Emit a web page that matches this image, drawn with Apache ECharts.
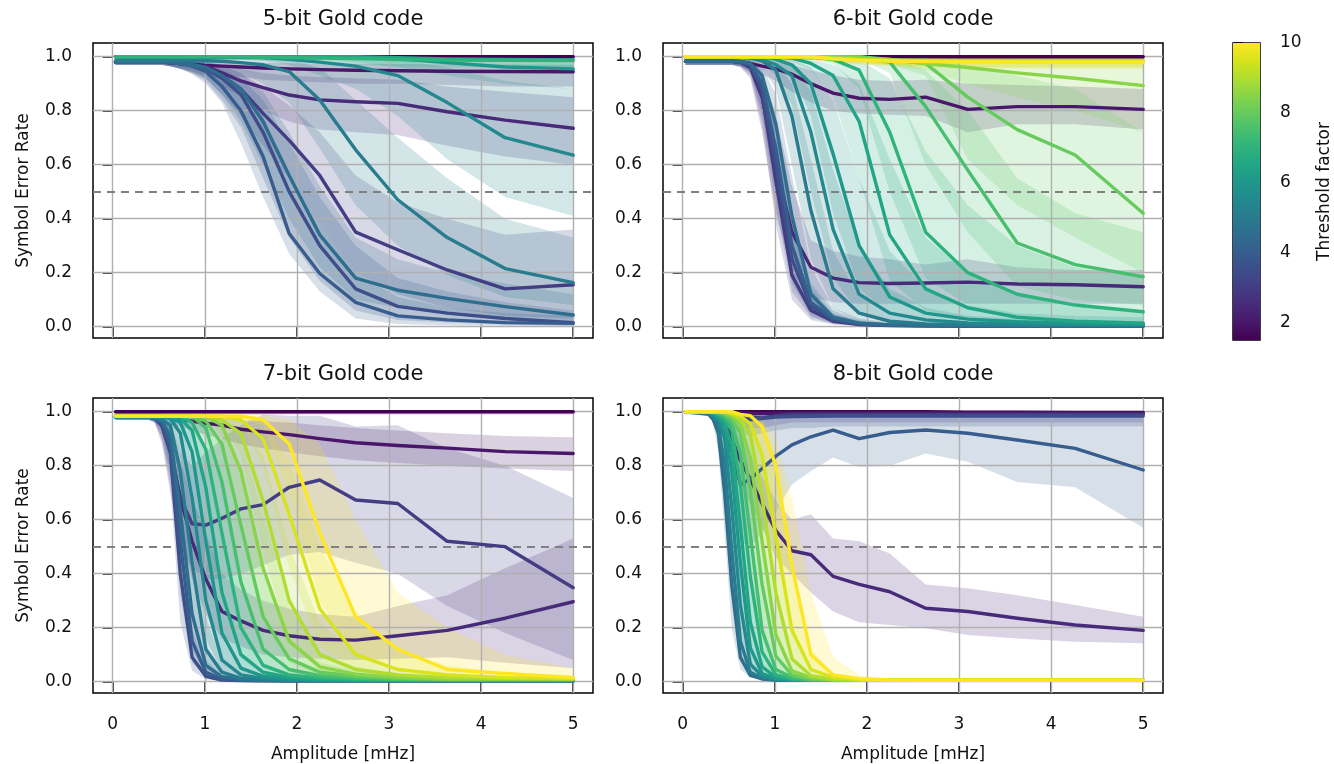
<!DOCTYPE html>
<html><head><meta charset="utf-8">
<script src="https://cdn.jsdelivr.net/npm/echarts@6/dist/echarts.min.js"></script>
<style>html,body{margin:0;padding:0;background:#fff}#c{width:1334px;height:764px}</style>
</head><body><div id="c"></div>
<script>
// ---------------- DATA ----------------
const amplitude = [0.03,0.281,0.33,0.387,0.455,0.533,0.626,0.734,0.862,1.011,1.186,1.392,1.633,1.916,2.248,2.638,3.095,3.632,4.261,5.0];
const xTickValues = [0,1,2,3,4,5];
const yTickValues = [0,0.2,0.4,0.6,0.8,1.0];
const colorbarTicks = [2,4,6,8,10];
const referenceRate = 0.5;
const panelTitles = ['5-bit Gold code','6-bit Gold code','7-bit Gold code','8-bit Gold code'];

const thresholds5 = [1.5,2,2.5,3,3.5,4,4.5,5,5.5,6,6.5,7];
const mean5 = [
[1,1,1,1,1,1,1,1,1,1,1,1,1,1,1,1,1,1,1,1],
[0.98,0.98,0.98,0.98,0.98,0.98,0.978,0.975,0.972,0.968,0.965,0.962,0.958,0.955,0.952,0.95,0.948,0.946,0.945,0.944],
[0.98,0.98,0.98,0.98,0.98,0.98,0.978,0.975,0.97,0.963,0.94,0.91,0.885,0.858,0.84,0.833,0.827,0.796,0.765,0.735],
[0.98,0.98,0.98,0.98,0.98,0.98,0.978,0.975,0.97,0.96,0.93,0.88,0.79,0.69,0.56,0.35,0.285,0.21,0.14,0.155],
[0.98,0.98,0.98,0.98,0.98,0.98,0.978,0.975,0.968,0.955,0.92,0.86,0.72,0.5,0.3,0.14,0.075,0.05,0.03,0.015],
[0.98,0.98,0.98,0.98,0.98,0.98,0.978,0.975,0.965,0.945,0.89,0.8,0.63,0.345,0.197,0.09,0.04,0.025,0.015,0.012],
[0.98,0.98,0.98,0.98,0.98,0.98,0.978,0.975,0.97,0.96,0.93,0.88,0.76,0.56,0.34,0.18,0.135,0.105,0.074,0.043],
[0.985,0.985,0.985,0.985,0.985,0.985,0.985,0.985,0.985,0.985,0.983,0.978,0.97,0.945,0.84,0.655,0.47,0.33,0.215,0.163],
[1,1,1,1,1,1,1,1,1,1,1,1,0.997,0.99,0.98,0.965,0.93,0.83,0.7,0.635],
[1,1,1,1,1,1,1,1,1,1,1,1,1,1,1,0.998,0.992,0.978,0.962,0.955],
[1,1,1,1,1,1,1,1,1,1,1,1,1,1,1,1,0.996,0.992,0.99,0.988],
[1,1,1,1,1,1,1,1,1,1,1,1,0.998,0.996,0.995,0.993,0.99,0.988,0.987,0.986]
];
const lower5 = [
[0.99,0.99,0.99,0.99,0.99,0.99,0.99,0.99,0.99,0.99,0.99,0.99,0.99,0.99,0.99,0.99,0.99,0.99,0.99,0.99],
[0.97,0.97,0.97,0.97,0.97,0.97,0.965,0.96,0.955,0.945,0.935,0.925,0.915,0.91,0.905,0.9,0.9,0.895,0.89,0.89],
[0.97,0.97,0.97,0.97,0.97,0.97,0.965,0.955,0.945,0.93,0.89,0.85,0.8,0.76,0.73,0.72,0.71,0.67,0.63,0.6],
[0.97,0.97,0.97,0.97,0.97,0.97,0.965,0.955,0.94,0.92,0.86,0.78,0.67,0.55,0.38,0.2,0.12,0.07,0.04,0.03],
[0.97,0.97,0.97,0.97,0.97,0.97,0.965,0.955,0.94,0.91,0.84,0.74,0.55,0.33,0.17,0.06,0.025,0.015,0.008,0.003],
[0.97,0.97,0.97,0.97,0.97,0.97,0.965,0.955,0.935,0.9,0.83,0.68,0.48,0.27,0.13,0.03,0.01,0.005,0.003,0.002],
[0.97,0.97,0.97,0.97,0.97,0.97,0.965,0.955,0.945,0.92,0.86,0.76,0.6,0.4,0.22,0.1,0.07,0.05,0.03,0.015],
[0.975,0.975,0.975,0.975,0.975,0.975,0.975,0.975,0.975,0.97,0.96,0.94,0.9,0.83,0.66,0.45,0.3,0.19,0.11,0.08],
[0.99,0.99,0.99,0.99,0.99,0.99,0.99,0.99,0.99,0.99,0.99,0.99,0.985,0.97,0.93,0.88,0.78,0.62,0.48,0.41],
[0.99,0.99,0.99,0.99,0.99,0.99,0.99,0.99,0.99,0.99,0.99,0.99,0.99,0.99,0.99,0.98,0.96,0.93,0.9,0.88],
[0.99,0.99,0.99,0.99,0.99,0.99,0.99,0.99,0.99,0.99,0.99,0.99,0.99,0.99,0.99,0.99,0.98,0.97,0.965,0.96],
[0.99,0.99,0.99,0.99,0.99,0.99,0.99,0.99,0.99,0.99,0.99,0.99,0.985,0.98,0.975,0.97,0.965,0.96,0.96,0.96]
];
const upper5 = [
[1,1,1,1,1,1,1,1,1,1,1,1,1,1,1,1,1,1,1,1],
[0.99,0.99,0.99,0.99,0.99,0.99,0.99,0.988,0.985,0.983,0.982,0.98,0.978,0.976,0.975,0.974,0.973,0.972,0.971,0.97],
[0.99,0.99,0.99,0.99,0.99,0.99,0.99,0.988,0.985,0.98,0.97,0.955,0.94,0.93,0.925,0.92,0.915,0.89,0.87,0.85],
[0.99,0.99,0.99,0.99,0.99,0.99,0.99,0.988,0.985,0.98,0.965,0.94,0.89,0.82,0.72,0.56,0.46,0.4,0.34,0.36],
[0.99,0.99,0.99,0.99,0.99,0.99,0.99,0.988,0.985,0.975,0.955,0.92,0.84,0.68,0.48,0.3,0.18,0.13,0.09,0.06],
[0.99,0.99,0.99,0.99,0.99,0.99,0.99,0.988,0.985,0.975,0.945,0.89,0.78,0.55,0.38,0.2,0.11,0.07,0.05,0.04],
[0.99,0.99,0.99,0.99,0.99,0.99,0.99,0.988,0.985,0.98,0.965,0.94,0.87,0.72,0.52,0.33,0.25,0.2,0.16,0.12],
[0.995,0.995,0.995,0.995,0.995,0.995,0.995,0.995,0.995,0.995,0.995,0.995,0.993,0.99,0.96,0.84,0.7,0.55,0.4,0.33],
[1,1,1,1,1,1,1,1,1,1,1,1,1,1,1,1,0.99,0.96,0.91,0.88],
[1,1,1,1,1,1,1,1,1,1,1,1,1,1,1,1,1,1,1,1],
[1,1,1,1,1,1,1,1,1,1,1,1,1,1,1,1,1,1,1,1],
[1,1,1,1,1,1,1,1,1,1,1,1,1,1,1,1,1,1,1,1]
];

const thresholds6 = [1.5,2,2.5,3,3.5,4,4.5,5,5.5,6,6.5,7,7.5,8,8.5,9,9.5,10];
const mean6 = [
[1,1,1,1,1,1,1,1,1,1,1,1,1,1,1,1,1,1,1,1],
[0.983,0.983,0.983,0.983,0.983,0.983,0.982,0.975,0.965,0.955,0.935,0.9,0.865,0.846,0.842,0.85,0.805,0.815,0.815,0.805],
[0.983,0.983,0.983,0.983,0.983,0.983,0.98,0.96,0.85,0.6,0.35,0.22,0.18,0.163,0.16,0.162,0.165,0.158,0.155,0.148],
[0.983,0.983,0.983,0.983,0.983,0.983,0.98,0.965,0.86,0.54,0.19,0.06,0.02,0.008,0.004,0.003,0.002,0.002,0.002,0.002],
[0.983,0.983,0.983,0.983,0.983,0.983,0.98,0.968,0.88,0.6,0.25,0.075,0.025,0.01,0.005,0.003,0.002,0.002,0.002,0.002],
[0.983,0.983,0.983,0.983,0.983,0.983,0.98,0.97,0.9,0.66,0.3,0.09,0.03,0.012,0.006,0.004,0.003,0.003,0.003,0.003],
[0.983,0.983,0.983,0.983,0.983,0.983,0.982,0.975,0.93,0.75,0.41,0.12,0.035,0.013,0.006,0.004,0.003,0.003,0.003,0.003],
[1,1,1,1,1,1,0.998,0.995,0.985,0.95,0.78,0.43,0.14,0.05,0.02,0.01,0.006,0.004,0.004,0.004],
[1,1,1,1,1,1,1,0.998,0.99,0.97,0.93,0.72,0.36,0.12,0.05,0.025,0.014,0.01,0.008,0.007],
[1,1,1,1,1,1,1,1,1,0.99,0.97,0.9,0.64,0.3,0.11,0.05,0.028,0.018,0.012,0.01],
[1,1,1,1,1,1,1,1,1,1,0.995,0.975,0.93,0.76,0.34,0.14,0.07,0.035,0.02,0.013],
[1,1,1,1,1,1,1,1,1,1,1,1,0.99,0.95,0.72,0.35,0.2,0.12,0.08,0.055],
[1,1,1,1,1,1,1,1,1,1,1,1,1,1,0.98,0.815,0.58,0.31,0.23,0.185],
[1,1,1,1,1,1,1,1,1,1,1,1,1,1,0.99,0.975,0.85,0.73,0.636,0.42],
[1,1,1,1,1,1,1,1,1,1,1,1,1,0.995,0.99,0.975,0.96,0.94,0.92,0.893],
[1,1,1,1,1,1,1,1,1,1,1,1,0.995,0.99,0.988,0.986,0.985,0.985,0.985,0.985],
[1,1,1,1,1,1,1,1,1,1,1,1,0.993,0.988,0.985,0.983,0.982,0.982,0.982,0.982],
[1,1,1,1,1,1,1,1,1,1,1,1,0.992,0.987,0.984,0.982,0.981,0.98,0.98,0.98]
];
const lower6 = [
[0.99,0.99,0.99,0.99,0.99,0.99,0.99,0.99,0.99,0.99,0.99,0.99,0.99,0.99,0.99,0.99,0.99,0.99,0.99,0.99],
[0.97,0.97,0.97,0.97,0.97,0.97,0.965,0.955,0.935,0.91,0.87,0.83,0.8,0.79,0.785,0.78,0.72,0.75,0.75,0.73],
[0.97,0.97,0.97,0.97,0.97,0.97,0.96,0.92,0.72,0.42,0.2,0.11,0.09,0.085,0.085,0.085,0.085,0.085,0.085,0.085],
[0.97,0.97,0.97,0.97,0.97,0.97,0.965,0.93,0.75,0.38,0.1,0.025,0.008,0.003,0.001,0,0,0,0,0],
[0.97,0.97,0.97,0.97,0.97,0.97,0.965,0.94,0.78,0.45,0.13,0.035,0.01,0.004,0.002,0.001,0,0,0,0],
[0.97,0.97,0.97,0.97,0.97,0.97,0.965,0.945,0.8,0.5,0.16,0.04,0.012,0.005,0.002,0.001,0,0,0,0],
[0.97,0.97,0.97,0.97,0.97,0.97,0.968,0.95,0.85,0.6,0.25,0.06,0.015,0.006,0.003,0.001,0,0,0,0],
[0.99,0.99,0.99,0.99,0.99,0.99,0.985,0.98,0.96,0.88,0.6,0.25,0.07,0.02,0.008,0.004,0.002,0.001,0.001,0.001],
[0.99,0.99,0.99,0.99,0.99,0.99,0.99,0.985,0.975,0.93,0.82,0.5,0.18,0.05,0.02,0.01,0.005,0.003,0.002,0.002],
[0.99,0.99,0.99,0.99,0.99,0.99,0.99,0.99,0.99,0.975,0.94,0.78,0.42,0.14,0.05,0.02,0.01,0.006,0.004,0.003],
[0.99,0.99,0.99,0.99,0.99,0.99,0.99,0.99,0.99,0.99,0.98,0.95,0.85,0.55,0.17,0.06,0.025,0.012,0.006,0.004],
[0.99,0.99,0.99,0.99,0.99,0.99,0.99,0.99,0.99,0.99,0.99,0.99,0.975,0.88,0.5,0.18,0.08,0.04,0.025,0.015],
[0.99,0.99,0.99,0.99,0.99,0.99,0.99,0.99,0.99,0.99,0.99,0.99,0.99,0.99,0.94,0.6,0.35,0.15,0.1,0.08],
[0.99,0.99,0.99,0.99,0.99,0.99,0.99,0.99,0.99,0.99,0.99,0.99,0.99,0.99,0.97,0.93,0.62,0.45,0.33,0.2],
[0.99,0.99,0.99,0.99,0.99,0.99,0.99,0.99,0.99,0.99,0.99,0.99,0.99,0.98,0.97,0.95,0.9,0.85,0.8,0.72],
[0.99,0.99,0.99,0.99,0.99,0.99,0.99,0.99,0.99,0.99,0.99,0.99,0.98,0.975,0.97,0.965,0.96,0.96,0.96,0.96],
[0.99,0.99,0.99,0.99,0.99,0.99,0.99,0.99,0.99,0.99,0.99,0.99,0.98,0.972,0.968,0.963,0.96,0.96,0.96,0.96],
[0.99,0.99,0.99,0.99,0.99,0.99,0.99,0.99,0.99,0.99,0.99,0.99,0.978,0.97,0.965,0.96,0.958,0.955,0.955,0.955]
];
const upper6 = [
[1,1,1,1,1,1,1,1,1,1,1,1,1,1,1,1,1,1,1,1],
[0.995,0.995,0.995,0.995,0.995,0.995,0.995,0.99,0.985,0.98,0.97,0.95,0.93,0.915,0.91,0.915,0.9,0.895,0.89,0.88],
[0.995,0.995,0.995,0.995,0.995,0.995,0.99,0.985,0.94,0.78,0.52,0.32,0.28,0.26,0.25,0.23,0.25,0.22,0.21,0.21],
[0.995,0.995,0.995,0.995,0.995,0.995,0.99,0.98,0.93,0.7,0.32,0.12,0.045,0.02,0.01,0.008,0.006,0.006,0.006,0.006],
[0.995,0.995,0.995,0.995,0.995,0.995,0.99,0.982,0.94,0.74,0.38,0.14,0.05,0.022,0.012,0.008,0.006,0.006,0.006,0.006],
[0.995,0.995,0.995,0.995,0.995,0.995,0.99,0.985,0.95,0.78,0.43,0.16,0.06,0.025,0.012,0.008,0.006,0.006,0.006,0.006],
[0.995,0.995,0.995,0.995,0.995,0.995,0.992,0.988,0.965,0.86,0.56,0.22,0.07,0.03,0.015,0.01,0.008,0.007,0.007,0.007],
[1,1,1,1,1,1,1,1,0.995,0.98,0.9,0.62,0.28,0.11,0.05,0.025,0.015,0.01,0.01,0.01],
[1,1,1,1,1,1,1,1,1,0.99,0.97,0.87,0.58,0.3,0.14,0.07,0.04,0.03,0.025,0.02],
[1,1,1,1,1,1,1,1,1,1,0.99,0.96,0.84,0.55,0.28,0.14,0.08,0.05,0.04,0.035],
[1,1,1,1,1,1,1,1,1,1,1,0.99,0.97,0.9,0.62,0.33,0.2,0.12,0.08,0.06],
[1,1,1,1,1,1,1,1,1,1,1,1,1,0.99,0.92,0.65,0.45,0.3,0.22,0.18],
[1,1,1,1,1,1,1,1,1,1,1,1,1,1,1,0.95,0.8,0.55,0.42,0.35],
[1,1,1,1,1,1,1,1,1,1,1,1,1,1,1,1,0.97,0.93,0.88,0.72],
[1,1,1,1,1,1,1,1,1,1,1,1,1,1,1,1,1,1,1,1],
[1,1,1,1,1,1,1,1,1,1,1,1,1,1,1,1,1,1,1,1],
[1,1,1,1,1,1,1,1,1,1,1,1,1,1,1,1,1,1,1,1],
[1,1,1,1,1,1,1,1,1,1,1,1,1,1,1,1,1,1,1,1]
];

const thresholds7 = [1.5,2,2.5,3,3.5,4,4.5,5,5.5,6,6.5,7,7.5,8,8.5,9,9.5,10];
const mean7 = [
[1,1,1,1,1,1,1,1,1,1,1,1,1,1,1,1,1,1,1,1],
[0.985,0.985,0.985,0.985,0.984,0.982,0.978,0.972,0.965,0.957,0.95,0.935,0.925,0.915,0.9,0.885,0.875,0.865,0.852,0.845],
[0.98,0.98,0.98,0.98,0.978,0.95,0.86,0.68,0.52,0.38,0.26,0.225,0.19,0.17,0.157,0.154,0.17,0.19,0.235,0.296],
[0.98,0.98,0.98,0.98,0.978,0.95,0.85,0.68,0.585,0.58,0.605,0.64,0.656,0.72,0.747,0.673,0.66,0.52,0.5,0.348],
[0.98,0.98,0.98,0.98,0.975,0.95,0.85,0.4,0.09,0.02,0.006,0.004,0.003,0.003,0.003,0.003,0.003,0.003,0.003,0.003],
[0.98,0.98,0.98,0.98,0.977,0.96,0.88,0.52,0.15,0.035,0.01,0.005,0.004,0.003,0.003,0.003,0.003,0.003,0.003,0.003],
[0.98,0.98,0.98,0.98,0.978,0.965,0.91,0.63,0.25,0.06,0.018,0.008,0.005,0.004,0.004,0.004,0.004,0.004,0.004,0.004],
[0.98,0.98,0.98,0.98,0.98,0.97,0.95,0.78,0.44,0.12,0.035,0.012,0.006,0.004,0.004,0.004,0.004,0.004,0.004,0.004],
[0.982,0.982,0.982,0.982,0.982,0.98,0.975,0.92,0.68,0.3,0.08,0.025,0.012,0.007,0.005,0.005,0.005,0.005,0.005,0.005],
[0.982,0.982,0.982,0.982,0.982,0.982,0.978,0.96,0.85,0.52,0.18,0.05,0.02,0.01,0.006,0.006,0.006,0.006,0.006,0.006],
[0.982,0.982,0.982,0.982,0.982,0.982,0.982,0.975,0.93,0.72,0.33,0.1,0.035,0.016,0.009,0.006,0.006,0.006,0.006,0.006],
[0.983,0.983,0.983,0.983,0.983,0.983,0.983,0.983,0.96,0.86,0.55,0.2,0.06,0.025,0.014,0.009,0.007,0.007,0.007,0.007],
[0.983,0.983,0.983,0.983,0.983,0.983,0.983,0.983,0.983,0.94,0.74,0.37,0.12,0.045,0.022,0.013,0.008,0.008,0.008,0.008],
[0.983,0.983,0.983,0.983,0.983,0.983,0.983,0.983,0.983,0.965,0.88,0.58,0.24,0.085,0.035,0.02,0.012,0.008,0.008,0.008],
[0.983,0.983,0.983,0.983,0.983,0.983,0.983,0.983,0.983,0.983,0.95,0.78,0.42,0.15,0.055,0.028,0.016,0.01,0.01,0.01],
[0.983,0.983,0.983,0.983,0.983,0.983,0.983,0.983,0.983,0.983,0.97,0.92,0.67,0.3,0.1,0.045,0.025,0.015,0.012,0.01],
[0.983,0.983,0.983,0.983,0.983,0.983,0.983,0.983,0.983,0.983,0.983,0.97,0.9,0.62,0.27,0.1,0.045,0.025,0.015,0.012],
[0.983,0.983,0.983,0.983,0.983,0.983,0.983,0.983,0.983,0.983,0.983,0.983,0.97,0.88,0.55,0.24,0.12,0.045,0.03,0.015]
];
const lower7 = [
[0.99,0.99,0.99,0.99,0.99,0.99,0.99,0.99,0.99,0.99,0.99,0.99,0.99,0.99,0.99,0.99,0.99,0.99,0.99,0.99],
[0.975,0.975,0.975,0.975,0.97,0.965,0.955,0.945,0.93,0.915,0.9,0.88,0.865,0.85,0.835,0.82,0.81,0.8,0.79,0.78],
[0.97,0.97,0.97,0.97,0.96,0.9,0.76,0.55,0.38,0.25,0.16,0.13,0.1,0.09,0.085,0.08,0.085,0.09,0.07,0.05],
[0.97,0.97,0.97,0.97,0.96,0.88,0.7,0.5,0.42,0.38,0.38,0.4,0.43,0.47,0.48,0.44,0.4,0.28,0.18,0.08],
[0.97,0.97,0.97,0.97,0.96,0.91,0.72,0.22,0.04,0.008,0.002,0,0,0,0,0,0,0,0,0],
[0.97,0.97,0.97,0.97,0.965,0.93,0.78,0.32,0.07,0.015,0.004,0.002,0.001,0,0,0,0,0,0,0],
[0.97,0.97,0.97,0.97,0.965,0.94,0.83,0.43,0.12,0.025,0.006,0.003,0.001,0,0,0,0,0,0,0],
[0.97,0.97,0.97,0.97,0.97,0.95,0.88,0.6,0.25,0.05,0.012,0.004,0.002,0.001,0,0,0,0,0,0],
[0.975,0.975,0.975,0.975,0.975,0.97,0.955,0.84,0.5,0.16,0.035,0.01,0.004,0.002,0.001,0,0,0,0,0],
[0.975,0.975,0.975,0.975,0.975,0.975,0.965,0.925,0.72,0.33,0.08,0.02,0.007,0.003,0.001,0,0,0,0,0],
[0.975,0.975,0.975,0.975,0.975,0.975,0.975,0.96,0.85,0.52,0.17,0.04,0.012,0.005,0.002,0.001,0,0,0,0],
[0.975,0.975,0.975,0.975,0.975,0.975,0.975,0.975,0.93,0.73,0.35,0.09,0.025,0.01,0.005,0.002,0.001,0,0,0],
[0.975,0.975,0.975,0.975,0.975,0.975,0.975,0.975,0.975,0.89,0.58,0.2,0.05,0.018,0.008,0.004,0.002,0.001,0.001,0.001],
[0.975,0.975,0.975,0.975,0.975,0.975,0.975,0.975,0.975,0.93,0.76,0.38,0.12,0.035,0.014,0.007,0.003,0.002,0.002,0.002],
[0.975,0.975,0.975,0.975,0.975,0.975,0.975,0.975,0.975,0.975,0.91,0.62,0.24,0.07,0.022,0.01,0.005,0.003,0.003,0.003],
[0.975,0.975,0.975,0.975,0.975,0.975,0.975,0.975,0.975,0.975,0.95,0.84,0.48,0.15,0.04,0.018,0.009,0.005,0.004,0.003],
[0.975,0.975,0.975,0.975,0.975,0.975,0.975,0.975,0.975,0.975,0.975,0.95,0.8,0.42,0.13,0.04,0.018,0.01,0.006,0.005],
[0.975,0.975,0.975,0.975,0.975,0.975,0.975,0.975,0.975,0.975,0.975,0.975,0.95,0.7,0.3,0.1,0.05,0.02,0.01,0.006]
];
const upper7 = [
[1,1,1,1,1,1,1,1,1,1,1,1,1,1,1,1,1,1,1,1],
[0.995,0.995,0.995,0.995,0.995,0.995,0.99,0.99,0.985,0.98,0.975,0.97,0.965,0.96,0.95,0.94,0.93,0.92,0.91,0.905],
[0.99,0.99,0.99,0.99,0.99,0.985,0.95,0.82,0.68,0.55,0.4,0.34,0.3,0.27,0.25,0.24,0.28,0.32,0.42,0.53],
[0.99,0.99,0.99,0.99,0.99,0.985,0.96,0.85,0.8,0.85,0.9,0.95,0.99,0.985,0.985,0.945,0.95,0.865,0.8,0.68],
[0.99,0.99,0.99,0.99,0.985,0.97,0.92,0.6,0.2,0.05,0.015,0.01,0.008,0.008,0.008,0.008,0.008,0.008,0.008,0.008],
[0.99,0.99,0.99,0.99,0.988,0.975,0.94,0.7,0.28,0.08,0.025,0.012,0.008,0.008,0.008,0.008,0.008,0.008,0.008,0.008],
[0.99,0.99,0.99,0.99,0.988,0.98,0.95,0.78,0.42,0.13,0.04,0.018,0.01,0.009,0.009,0.009,0.009,0.009,0.009,0.009],
[0.99,0.99,0.99,0.99,0.99,0.985,0.975,0.9,0.62,0.24,0.07,0.025,0.012,0.009,0.009,0.009,0.009,0.009,0.009,0.009],
[0.99,0.99,0.99,0.99,0.99,0.99,0.985,0.96,0.82,0.47,0.17,0.055,0.025,0.014,0.01,0.01,0.01,0.01,0.01,0.01],
[0.99,0.99,0.99,0.99,0.99,0.99,0.99,0.98,0.93,0.7,0.32,0.1,0.04,0.02,0.012,0.012,0.012,0.012,0.012,0.012],
[0.99,0.99,0.99,0.99,0.99,0.99,0.99,0.99,0.97,0.86,0.52,0.2,0.07,0.03,0.016,0.012,0.012,0.012,0.012,0.012],
[0.992,0.992,0.992,0.992,0.992,0.992,0.992,0.992,0.985,0.94,0.74,0.35,0.12,0.05,0.028,0.018,0.014,0.014,0.014,0.014],
[0.992,0.992,0.992,0.992,0.992,0.992,0.992,0.992,0.992,0.975,0.87,0.57,0.24,0.09,0.045,0.026,0.016,0.015,0.015,0.015],
[0.992,0.992,0.992,0.992,0.992,0.992,0.992,0.992,0.992,0.985,0.95,0.76,0.4,0.16,0.07,0.04,0.025,0.018,0.016,0.016],
[0.992,0.992,0.992,0.992,0.992,0.992,0.992,0.992,0.992,0.992,0.98,0.9,0.62,0.28,0.11,0.055,0.032,0.02,0.018,0.018],
[0.992,0.992,0.992,0.992,0.992,0.992,0.992,0.992,0.992,0.992,0.99,0.97,0.84,0.5,0.22,0.1,0.05,0.03,0.022,0.02],
[0.992,0.992,0.992,0.992,0.992,0.992,0.992,0.992,0.992,0.992,0.992,0.99,0.96,0.82,0.5,0.26,0.12,0.06,0.035,0.025],
[0.992,0.992,0.992,0.992,0.992,0.992,0.992,0.992,0.992,0.992,0.992,0.992,0.99,0.97,0.88,0.6,0.33,0.2,0.1,0.05]
];

const thresholds8 = [1.5,2,2.5,3,3.5,4,4.5,5,5.5,6,6.5,7,7.5,8,8.5,9,9.5,10];
const mean8 = [
[1,1,1,1,1,1,1,1,1,1,1,1,1,1,1,1,0.998,0.998,0.997,0.997],
[1,1,1,1,1,0.998,0.995,0.993,0.993,0.994,0.995,0.995,0.995,0.995,0.995,0.995,0.995,0.995,0.995,0.995],
[1,1,1,1,0.97,0.9,0.82,0.75,0.66,0.56,0.485,0.47,0.39,0.36,0.333,0.272,0.26,0.235,0.21,0.19],
[1,1,1,1,1,0.995,0.99,0.98,0.977,0.985,0.99,0.99,0.99,0.99,0.99,0.99,0.99,0.99,0.99,0.99],
[1,1,1,1,0.995,0.99,0.98,0.97,0.975,0.98,0.982,0.983,0.984,0.984,0.984,0.984,0.984,0.984,0.984,0.984],
[1,1,1,0.99,0.96,0.86,0.73,0.75,0.79,0.835,0.877,0.907,0.932,0.9,0.923,0.932,0.92,0.895,0.864,0.784],
[1,0.99,0.972,0.92,0.7,0.355,0.09,0.023,0.01,0.006,0.005,0.005,0.005,0.005,0.005,0.005,0.005,0.005,0.005,0.005],
[1,0.995,0.98,0.948,0.805,0.487,0.15,0.035,0.013,0.006,0.005,0.005,0.005,0.005,0.005,0.005,0.005,0.005,0.005,0.005],
[1,1,0.988,0.966,0.9,0.645,0.285,0.065,0.02,0.009,0.005,0.005,0.005,0.005,0.005,0.005,0.005,0.005,0.005,0.005],
[1,1,0.99,0.978,0.94,0.78,0.44,0.125,0.03,0.011,0.006,0.005,0.005,0.005,0.005,0.005,0.005,0.005,0.005,0.005],
[1,1,0.995,0.985,0.96,0.87,0.58,0.22,0.055,0.017,0.009,0.006,0.005,0.005,0.005,0.005,0.005,0.005,0.005,0.005],
[1,1,1,0.99,0.975,0.93,0.73,0.39,0.11,0.026,0.01,0.005,0.005,0.005,0.005,0.005,0.005,0.005,0.005,0.005],
[1,1,1,0.995,0.984,0.955,0.845,0.545,0.19,0.045,0.016,0.007,0.005,0.005,0.005,0.005,0.005,0.005,0.005,0.005],
[1,1,1,1,0.99,0.973,0.92,0.71,0.36,0.095,0.024,0.01,0.005,0.005,0.005,0.005,0.005,0.005,0.005,0.005],
[1,1,1,1,0.995,0.983,0.952,0.83,0.52,0.175,0.04,0.015,0.007,0.005,0.005,0.005,0.005,0.005,0.005,0.005],
[1,1,1,1,1,0.99,0.97,0.915,0.68,0.33,0.085,0.022,0.009,0.005,0.005,0.005,0.005,0.005,0.005,0.005],
[1,1,1,1,1,0.995,0.984,0.955,0.84,0.54,0.19,0.045,0.016,0.007,0.005,0.005,0.005,0.005,0.005,0.005],
[1,1,1,1,1,1,0.99,0.985,0.945,0.8,0.43,0.1,0.025,0.011,0.006,0.005,0.005,0.005,0.005,0.005]
];
const lower8 = [
[0.99,0.99,0.99,0.99,0.99,0.99,0.99,0.99,0.99,0.99,0.99,0.99,0.99,0.99,0.99,0.99,0.99,0.99,0.99,0.99],
[1,1,1,1,0.99,0.98,0.97,0.97,0.975,0.98,0.98,0.98,0.98,0.98,0.98,0.98,0.98,0.98,0.98,0.98],
[1,1,1,0.99,0.93,0.84,0.74,0.66,0.57,0.46,0.4,0.33,0.26,0.22,0.21,0.198,0.173,0.16,0.148,0.142],
[1,1,1,1,0.99,0.97,0.95,0.94,0.94,0.95,0.96,0.96,0.96,0.96,0.96,0.96,0.96,0.96,0.96,0.96],
[1,1,1,0.99,0.97,0.94,0.92,0.91,0.92,0.93,0.94,0.94,0.945,0.945,0.945,0.945,0.945,0.945,0.945,0.945],
[1,1,1,0.98,0.9,0.72,0.52,0.5,0.55,0.63,0.73,0.78,0.83,0.795,0.8,0.845,0.815,0.74,0.72,0.57],
[1,0.985,0.956,0.85,0.55,0.195,0.045,0.016,0.007,0.004,0.002,0.002,0.002,0.002,0.002,0.002,0.002,0.002,0.002,0.002],
[1,0.99,0.972,0.92,0.7,0.355,0.09,0.023,0.01,0.005,0.002,0.002,0.002,0.002,0.002,0.002,0.002,0.002,0.002,0.002],
[1,0.995,0.98,0.948,0.805,0.487,0.15,0.035,0.013,0.006,0.002,0.002,0.002,0.002,0.002,0.002,0.002,0.002,0.002,0.002],
[1,1,0.988,0.966,0.9,0.645,0.285,0.065,0.02,0.009,0.004,0.002,0.002,0.002,0.002,0.002,0.002,0.002,0.002,0.002],
[1,1,0.99,0.978,0.94,0.78,0.44,0.125,0.03,0.011,0.005,0.003,0.002,0.002,0.002,0.002,0.002,0.002,0.002,0.002],
[1,1,0.995,0.985,0.96,0.87,0.58,0.22,0.055,0.017,0.007,0.003,0.002,0.002,0.002,0.002,0.002,0.002,0.002,0.002],
[1,1,1,0.99,0.975,0.93,0.73,0.39,0.11,0.026,0.008,0.004,0.002,0.002,0.002,0.002,0.002,0.002,0.002,0.002],
[1,1,1,0.995,0.984,0.955,0.845,0.545,0.19,0.045,0.012,0.005,0.002,0.002,0.002,0.002,0.002,0.002,0.002,0.002],
[1,1,1,1,0.99,0.973,0.92,0.71,0.36,0.095,0.02,0.007,0.003,0.002,0.002,0.002,0.002,0.002,0.002,0.002],
[1,1,1,1,0.995,0.983,0.952,0.83,0.52,0.175,0.035,0.01,0.004,0.002,0.002,0.002,0.002,0.002,0.002,0.002],
[1,1,1,1,1,0.99,0.97,0.915,0.68,0.33,0.085,0.02,0.007,0.003,0.002,0.002,0.002,0.002,0.002,0.002],
[1,1,1,1,1,0.995,0.984,0.955,0.84,0.54,0.19,0.045,0.012,0.005,0.003,0.002,0.002,0.002,0.002,0.002]
];
const upper8 = [
[1,1,1,1,1,1,1,1,1,1,1,1,1,1,1,1,1,1,1,1],
[1,1,1,1,1,1,1,1,1,1,1,1,1,1,1,1,1,1,1,1],
[1,1,1,1,0.99,0.96,0.9,0.84,0.76,0.67,0.6,0.62,0.53,0.52,0.475,0.36,0.346,0.32,0.284,0.24],
[1,1,1,1,1,1,1,1,1,1,1,1,1,1,1,1,1,1,1,1],
[1,1,1,1,1,1,1,1,1,1,1,1,1,1,1,1,1,1,1,1],
[1,1,1,1,1,0.99,0.97,0.96,0.97,0.98,0.985,0.99,0.99,0.99,0.99,0.99,0.99,0.99,0.985,0.98],
[1,0.995,0.98,0.948,0.805,0.487,0.15,0.035,0.013,0.008,0.007,0.007,0.007,0.007,0.007,0.007,0.007,0.007,0.007,0.007],
[1,1,0.988,0.966,0.9,0.645,0.285,0.065,0.02,0.009,0.007,0.007,0.007,0.007,0.007,0.007,0.007,0.007,0.007,0.007],
[1,1,0.99,0.978,0.94,0.78,0.44,0.125,0.03,0.011,0.007,0.007,0.007,0.007,0.007,0.007,0.007,0.007,0.007,0.007],
[1,1,0.995,0.985,0.96,0.87,0.58,0.22,0.055,0.017,0.009,0.007,0.007,0.007,0.007,0.007,0.007,0.007,0.007,0.007],
[1,1,1,0.99,0.975,0.93,0.73,0.39,0.11,0.026,0.01,0.008,0.007,0.007,0.007,0.007,0.007,0.007,0.007,0.007],
[1,1,1,0.995,0.984,0.955,0.845,0.545,0.19,0.045,0.016,0.008,0.007,0.007,0.007,0.007,0.007,0.007,0.007,0.007],
[1,1,1,1,0.99,0.973,0.92,0.71,0.36,0.095,0.024,0.01,0.007,0.007,0.007,0.007,0.007,0.007,0.007,0.007],
[1,1,1,1,0.995,0.983,0.952,0.83,0.52,0.175,0.04,0.015,0.008,0.007,0.007,0.007,0.007,0.007,0.007,0.007],
[1,1,1,1,1,0.99,0.97,0.915,0.68,0.33,0.085,0.022,0.01,0.007,0.007,0.007,0.007,0.007,0.007,0.007],
[1,1,1,1,1,0.995,0.984,0.955,0.84,0.54,0.19,0.045,0.016,0.008,0.007,0.007,0.007,0.007,0.007,0.007],
[1,1,1,1,1,1,0.99,0.978,0.94,0.78,0.44,0.12,0.03,0.012,0.008,0.007,0.007,0.007,0.007,0.007],
[1,1,1,1,1,1,1,0.99,0.97,0.9,0.68,0.33,0.09,0.025,0.012,0.008,0.008,0.008,0.008,0.008]
];

// ---------------- STYLE / LAYOUT ----------------
const FONT = '"DejaVu Sans", "Liberation Sans", sans-serif';
const TXT = '#111';
const VIR = ['#440154','#481a6c','#472f7d','#414487','#39568c','#31688e','#2a788e','#23888e',
             '#1f988b','#22a884','#35b779','#54c568','#7ad151','#a5db36','#d2e21b','#fde725'];
const CMIN = 1.5, CMAX = 10;
function hexRgb(h){return [parseInt(h.slice(1,3),16),parseInt(h.slice(3,5),16),parseInt(h.slice(5,7),16)];}
function viridis(t){
  t = Math.max(0, Math.min(1, t));
  const s = t*(VIR.length-1), i = Math.min(Math.floor(s), VIR.length-2), f = s-i;
  const a = hexRgb(VIR[i]), b = hexRgb(VIR[i+1]);
  return [0,1,2].map(j => Math.round(a[j]+(b[j]-a[j])*f));
}
function colorFor(th, alpha){
  const c = viridis((th-CMIN)/(CMAX-CMIN));
  return alpha == null ? 'rgb('+c.join(',')+')' : 'rgba('+c.join(',')+','+alpha+')';
}

const PW = 500, PH = 295;
const XMIN = -0.214, XMAX = 5.215, YMIN = -0.042, YMAX = 1.0507;
const panels = [
  {thr:thresholds5, m:mean5, lo:lower5, hi:upper5, left:93,  top:43,  xLab:false, yName:true},
  {thr:thresholds6, m:mean6, lo:lower6, hi:upper6, left:663, top:43,  xLab:false, yName:false},
  {thr:thresholds7, m:mean7, lo:lower7, hi:upper7, left:93,  top:398, xLab:true,  yName:true},
  {thr:thresholds8, m:mean8, lo:lower8, hi:upper8, left:663, top:398, xLab:true,  yName:false}
];

const grids = [], xAxes = [], yAxes = [], series = [], graphics = [];
const tickStyle = {color:'#000', width:1.5};

panels.forEach((P, p) => {
  grids.push({left:P.left, top:P.top, width:PW, height:PH, show:true,
              borderColor:'#000', borderWidth:1.5, backgroundColor:'rgba(0,0,0,0)'});
  xAxes.push({
    gridIndex:p, type:'value', min:XMIN, max:XMAX,
    axisLine:{show:false}, splitLine:{show:false},
    axisTick:{show:true, customValues:xTickValues, length:10, lineStyle:tickStyle},
    axisLabel:{show:P.xLab, customValues:xTickValues, margin:23, fontSize:17, color:TXT, fontFamily:FONT,
               formatter: v => String(Math.round(v))},
    name: P.xLab ? 'Amplitude [mHz]' : '', nameLocation:'middle', nameGap:53,
    nameTextStyle:{fontSize:17, color:TXT, fontFamily:FONT}
  });
  yAxes.push({
    gridIndex:p, type:'value', min:YMIN, max:YMAX,
    axisLine:{show:false}, splitLine:{show:false},
    axisTick:{show:true, customValues:yTickValues, length:10, lineStyle:tickStyle},
    axisLabel:{show:true, customValues:yTickValues, margin:21, fontSize:17, color:TXT, fontFamily:FONT,
               formatter: v => v.toFixed(1)},
    name: P.yName ? 'Symbol Error Rate' : '', nameLocation:'middle', nameRotate:90, nameGap:61,
    nameTextStyle:{fontSize:17, color:TXT, fontFamily:FONT}
  });
  // confidence bands
  series.push({
    type:'custom', xAxisIndex:p, yAxisIndex:p, z:1, silent:true, animation:false,
    data: P.thr.map(() => [1, 0.5]),
    renderItem: (params, api) => {
      const k = params.dataIndex, pts = [];
      for (let i = 0; i < amplitude.length; i++) pts.push(api.coord([amplitude[i], P.hi[k][i]]));
      for (let i = amplitude.length-1; i >= 0; i--) pts.push(api.coord([amplitude[i], P.lo[k][i]]));
      return {type:'polygon', shape:{points:pts}, style:{fill:colorFor(P.thr[k], 0.2), stroke:null}};
    }
  });
  // grid lines (above bands, below curves)
  series.push({
    type:'line', xAxisIndex:p, yAxisIndex:p, data:[], z:2, silent:true, animation:false,
    markLine:{z:2, silent:true, animation:false, symbol:['none','none'], label:{show:false},
      emphasis:{disabled:true},
      lineStyle:{color:'#b0b0b0', width:1.4, type:'solid'},
      data:[...xTickValues.map(v => ({xAxis:v})), ...yTickValues.map(v => ({yAxis:v}))]}
  });
  // 0.5 reference
  series.push({
    type:'line', xAxisIndex:p, yAxisIndex:p, data:[], z:3, silent:true, animation:false,
    markLine:{z:3, silent:true, animation:false, symbol:['none','none'], label:{show:false},
      emphasis:{disabled:true},
      lineStyle:{color:'#808080', width:1.8, type:[8,6]},
      data:[{yAxis:referenceRate}]}
  });
  // mean lines
  P.thr.forEach((th, k) => {
    series.push({
      type:'line', xAxisIndex:p, yAxisIndex:p, z:6, silent:true, animation:false,
      showSymbol:false, symbol:'none', emphasis:{disabled:true},
      data: amplitude.map((x, i) => [x, P.m[k][i]]),
      lineStyle:{width:3.4, color:colorFor(th), join:'round', cap:'round'},
      itemStyle:{color:colorFor(th)}
    });
  });
  graphics.push({type:'text', x:P.left+PW/2, y:P.top-23.5,
    style:{text:panelTitles[p], fill:TXT, font:'21px '+FONT, textAlign:'center', textVerticalAlign:'middle'}});
});

// colorbar
const cbIndex = panels.length;
grids.push({left:1233, top:43, width:27, height:297, show:true, borderColor:'#000', borderWidth:1.5,
            backgroundColor:'rgba(0,0,0,0)'});
xAxes.push({gridIndex:cbIndex, type:'value', min:0, max:1, show:false});
yAxes.push({
  gridIndex:cbIndex, type:'value', min:CMIN, max:CMAX, position:'right',
  axisLine:{show:false}, splitLine:{show:false},
  axisTick:{show:true, customValues:colorbarTicks, length:10, lineStyle:tickStyle},
  axisLabel:{show:true, customValues:colorbarTicks, margin:20, fontSize:17, color:TXT, fontFamily:FONT},
  name:'Threshold factor', nameLocation:'middle', nameRotate:90, nameGap:56,
  nameTextStyle:{fontSize:17, color:TXT, fontFamily:FONT}
});
series.push({
  type:'custom', xAxisIndex:cbIndex, yAxisIndex:cbIndex, z:1, silent:true, animation:false,
  data:[[0.5, 5]],
  renderItem: (params, api) => {
    const a = api.coord([0, CMIN]), b = api.coord([1, CMAX]);
    const stops = VIR.map((c, i) => ({offset:i/(VIR.length-1), color:c}));
    return {type:'rect', shape:{x:a[0], y:b[1], width:b[0]-a[0], height:a[1]-b[1]},
            style:{fill:new echarts.graphic.LinearGradient(0, 1, 0, 0, stops)}};
  }
});

const chart = echarts.init(document.getElementById('c'), null, {renderer:'canvas', width:1334, height:764});
chart.setOption({
  backgroundColor:'#ffffff',
  animation:false,
  textStyle:{fontFamily:FONT},
  grid:grids, xAxis:xAxes, yAxis:yAxes, series:series,
  graphic:graphics
});
</script>
</body></html>
